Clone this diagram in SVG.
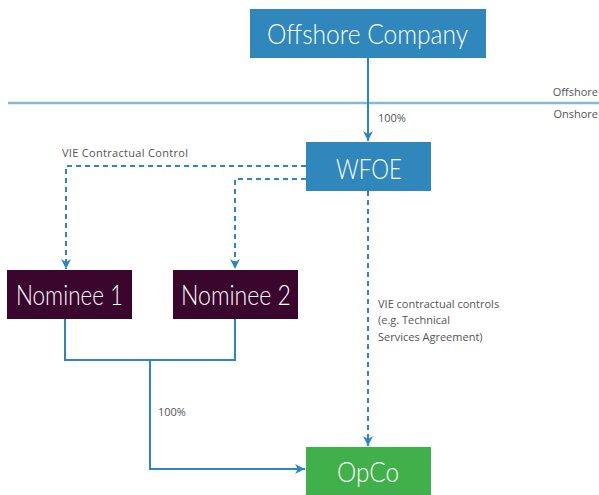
<svg xmlns="http://www.w3.org/2000/svg" width="599" height="495" viewBox="0 0 599 495">
<style>
.box{font-family:Lato,"Open Sans","Liberation Sans",sans-serif;font-weight:300;font-size:27px;fill:#fff;text-anchor:middle}
.lbl{font-family:"Open Sans","Liberation Sans",sans-serif;font-size:11px;fill:#555}
.solid{fill:none;stroke:#2e86c1;stroke-width:2}
.dash{fill:none;stroke:#2e86c1;stroke-width:2;stroke-dasharray:5,4}
</style>
<defs>
<marker id="ah" viewBox="0 0 10 10" refX="10" refY="5" markerWidth="10" markerHeight="10" markerUnits="userSpaceOnUse" orient="auto">
<path d="M0,0 L10,5 L0,10 L3,5 Z" fill="#2e86c1"/>
</marker>
</defs>
<rect width="599" height="495" fill="#fff"/>
<line x1="8" y1="103" x2="599" y2="103" stroke="#86b8dc" stroke-width="2.5"/>
<text class="lbl" x="598" y="96" text-anchor="end">Offshore</text>
<text class="lbl" x="598" y="118" text-anchor="end">Onshore</text>
<g id="connectors">
<path class="solid" d="M368,58 V141" marker-end="url(#ah)"/>
<path class="dash" d="M306,166 H66 V269" marker-end="url(#ah)"/>
<path class="dash" d="M306,179 H235 V269" marker-end="url(#ah)"/>
<path class="dash" d="M368,191 V446" marker-end="url(#ah)"/>
<path class="solid" d="M65,319 V360 H235 V319"/>
<path class="solid" d="M150,360 V469 H305" marker-end="url(#ah)"/>
<text class="lbl" x="378" y="122">100%</text>
<text class="lbl" x="62" y="157" textLength="126">VIE Contractual Control</text>
<text class="lbl" x="158" y="416">100%</text>
<text class="lbl" x="378" y="308">VIE contractual controls</text>
<text class="lbl" x="378" y="324">(e.g. Technical</text>
<text class="lbl" x="378" y="341">Services Agreement)</text>
</g>
<g id="offshore">
<rect x="250" y="9" width="236" height="49" fill="#2f87bc"/>
<text class="box" x="367.5" y="44" textLength="201" lengthAdjust="spacingAndGlyphs">Offshore Company</text>
</g>
<g id="wfoe">
<rect x="306" y="142" width="125" height="49" fill="#2f87bc"/>
<text class="box" x="369" y="179" textLength="66" lengthAdjust="spacingAndGlyphs">WFOE</text>
</g>
<g id="nominee1">
<rect x="7" y="270" width="125" height="49" fill="#3a062e"/>
<text class="box" x="69.5" y="305" textLength="107" lengthAdjust="spacingAndGlyphs">Nominee 1</text>
</g>
<g id="nominee2">
<rect x="173" y="270" width="125" height="49" fill="#3a062e"/>
<text class="box" x="236" y="305" textLength="110" lengthAdjust="spacingAndGlyphs">Nominee 2</text>
</g>
<g id="opco">
<rect x="306" y="447" width="125" height="48" fill="#40b04a"/>
<text class="box" x="368" y="482" textLength="62" lengthAdjust="spacingAndGlyphs">OpCo</text>
</g>
</svg>
